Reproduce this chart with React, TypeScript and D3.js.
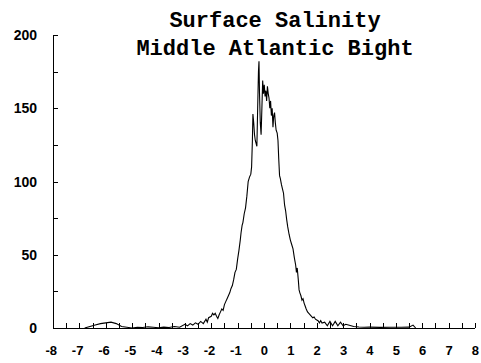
import React from "react";
import * as d3 from "d3";

const titleLines = ["Surface Salinity", "Middle Atlantic Bight"];
const xTickLabels = [-8, -7, -6, -5, -4, -3, -2, -1, 0, 1, 2, 3, 4, 5, 6, 7, 8];
const yTickLabels = [0, 50, 100, 150, 200];

const xs = [
  -6.8, -6.6, -6.4, -6.2, -6.0, -5.8, -5.6, -5.4, -5.2, -5.0, -4.8, -4.6, -4.4, -4.2, -4.0,
  -3.8, -3.6, -3.4, -3.2, -3.0, -2.9, -2.8, -2.7, -2.6, -2.5, -2.4, -2.3, -2.2, -2.15, -2.1,
  -2.0, -1.95, -1.9, -1.85, -1.8, -1.75, -1.7, -1.65, -1.6, -1.55, -1.5, -1.45, -1.4, -1.35,
  -1.3, -1.25, -1.2, -1.15, -1.1, -1.05, -1.0, -0.95, -0.9, -0.87, -0.83, -0.8, -0.75, -0.7,
  -0.65, -0.6, -0.55, -0.5, -0.47, -0.44, -0.42, -0.39, -0.36, -0.33, -0.3, -0.27, -0.24,
  -0.21, -0.19, -0.17, -0.14, -0.11, -0.08, -0.05, -0.02, 0.01, 0.04, 0.07, 0.1, 0.13, 0.16,
  0.19, 0.22, 0.25, 0.28, 0.31, 0.34, 0.37, 0.4, 0.43, 0.46, 0.5, 0.53, 0.56, 0.59, 0.62,
  0.66, 0.7, 0.74, 0.78, 0.82, 0.86, 0.9, 0.95, 1.0, 1.05, 1.1, 1.15, 1.2, 1.23, 1.26, 1.3,
  1.33, 1.36, 1.4, 1.44, 1.48, 1.52, 1.56, 1.6, 1.65, 1.7, 1.75, 1.8, 1.85, 1.9, 1.95, 2.0,
  2.05, 2.1, 2.15, 2.2, 2.3, 2.4, 2.5, 2.6, 2.7, 2.8, 2.9, 3.0, 3.1, 3.2, 3.4, 3.6, 3.8, 4.0,
  4.4, 4.8, 5.2, 5.5, 5.65, 5.75,
];
const counts = [
  0, 1, 2, 3, 3.5, 4, 3, 1, 0.5, 0, 0.5, 0.3, 0.8, 0.5, 0.2,
  0.6, 0.3, 1.0, 0.5, 2.5, 1.5, 3, 2, 3.5, 2.5, 4.5, 3, 6, 4, 7,
  8, 10, 9, 10, 8, 6.5, 9, 11, 13, 12, 16, 18, 20, 22,
  24, 27, 29, 33, 38, 40, 47, 53, 60, 65, 70, 72, 78, 82,
  90, 100, 103, 105, 110, 128, 146, 140, 132, 128, 126, 124, 150,
  175, 182, 160, 140, 132, 150, 169, 160, 166, 158, 162, 155, 165, 160,
  157, 150, 155, 145, 150, 137, 145, 147, 140, 135, 133, 128, 115, 104, 102,
  98, 95, 92, 84, 80, 74, 69, 64, 60, 57, 54, 48, 43, 38, 41, 33,
  26, 24, 22, 19, 20, 17, 15, 13, 11, 10, 9, 8, 7, 7.5, 6, 5.5,
  5, 3.5, 5, 3.4, 4, 1.5, 4.5, 1.5, 4.5, 1.5, 4, 1.5, 2.5, 2, 1, 0.7, 0.5, 0.6,
  0.4, 0.5, 0.5, 0.6, 2, 0,
];

const W = 481;
const H = 363;
const left = 53;
const right = 475;
const top = 35;
const bottom = 328;

export default function App() {
  const x = d3.scaleLinear().domain([-8, 8]).range([left, right]);
  const y = d3.scaleLinear().domain([0, 200]).range([bottom, top]);
  const line = d3
    .line<number>()
    .x((_, i) => x(xs[i]))
    .y((d) => y(d));
  const xMinor = d3.range(-8, 8.001, 0.5);
  const yMinor = d3.range(0, 200.001, 25);
  return (
    <div style={{ position: "fixed", left: 0, top: 0 }}>
      <svg width={W} height={H} style={{ display: "block", background: "#fff" }}>
        <g stroke="#000" strokeWidth={1} fill="none" shapeRendering="crispEdges">
          <line x1={left} x2={right} y1={bottom + 0.5} y2={bottom + 0.5} />
          <line x1={left + 0.5} x2={left + 0.5} y1={top} y2={bottom} />
          {xMinor.map((v) => (
            <line key={"xt" + v} x1={Math.round(x(v)) + 0.5} x2={Math.round(x(v)) + 0.5} y1={bottom} y2={bottom - 5} />
          ))}
          {yMinor.map((v) => (
            <line key={"yt" + v} x1={left} x2={left + 5} y1={Math.round(y(v)) + 0.5} y2={Math.round(y(v)) + 0.5} />
          ))}
        </g>
        <path d={line(counts) || ""} fill="none" stroke="#000" strokeWidth={1.1} strokeLinejoin="miter" />
        <g fontFamily="'Liberation Sans', Arial, sans-serif" fontWeight="bold" fill="#000">
          {xTickLabels.map((v) => (
            <text key={"xl" + v} x={x(v) + 4} y={355} fontSize={13} textAnchor="end">
              {v < 0 ? "-" + Math.abs(v) : String(v)}
            </text>
          ))}
          {yTickLabels.map((v) => (
            <text key={"yl" + v} x={37} y={y(v) + 5} fontSize={14} textAnchor="end">
              {v}
            </text>
          ))}
        </g>
        <g fontFamily="'Liberation Mono', 'Courier New', monospace" fontWeight="bold" fontSize={22} fill="#000" textAnchor="middle">
          {titleLines.map((t, i) => (
            <text key={t} x={275} y={27 + i * 28}>
              {t}
            </text>
          ))}
        </g>
      </svg>
    </div>
  );
}
